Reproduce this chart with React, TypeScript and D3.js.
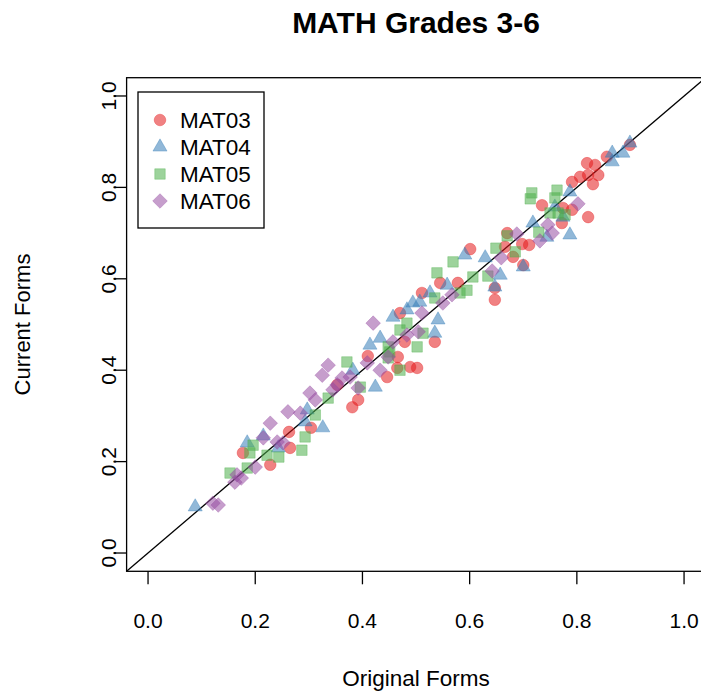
import React from "react";
import * as d3 from "d3";

const title = "MATH Grades 3-6";
const xLabel = "Original Forms";
const yLabel = "Current Forms";
const ticks = [0, 0.2, 0.4, 0.6, 0.8, 1.0];
const seriesNames = ["MAT03", "MAT04", "MAT05", "MAT06"];
const seriesColors = ["#E41A1C", "#377EB8", "#4DAF4A", "#984EA3"];

const mat03: [number, number][] = [
  [0.177, 0.219], [0.228, 0.193], [0.265, 0.23], [0.263, 0.265], [0.304, 0.274],
  [0.353, 0.368], [0.381, 0.319], [0.392, 0.335], [0.41, 0.431], [0.47, 0.525],
  [0.446, 0.385], [0.466, 0.429], [0.465, 0.405], [0.479, 0.462], [0.489, 0.407],
  [0.502, 0.405], [0.511, 0.569], [0.545, 0.591], [0.578, 0.591], [0.535, 0.462],
  [0.601, 0.665], [0.647, 0.58], [0.647, 0.554], [0.666, 0.67], [0.681, 0.648],
  [0.7, 0.63], [0.698, 0.676], [0.711, 0.674], [0.67, 0.7], [0.735, 0.761],
  [0.774, 0.755], [0.791, 0.751], [0.772, 0.722], [0.821, 0.735], [0.899, 0.893],
  [0.856, 0.867], [0.819, 0.853], [0.834, 0.849], [0.806, 0.823], [0.791, 0.812],
  [0.821, 0.827], [0.84, 0.827], [0.83, 0.807],
];
const mat04: [number, number][] = [
  [0.088, 0.101], [0.185, 0.241], [0.215, 0.256], [0.243, 0.23], [0.293, 0.287],
  [0.297, 0.313], [0.326, 0.274], [0.382, 0.4], [0.414, 0.455], [0.433, 0.47],
  [0.424, 0.363], [0.457, 0.516], [0.483, 0.532], [0.494, 0.547], [0.507, 0.549],
  [0.535, 0.481], [0.541, 0.51], [0.558, 0.586], [0.526, 0.569], [0.591, 0.652],
  [0.629, 0.646], [0.657, 0.608], [0.647, 0.582], [0.7, 0.626], [0.718, 0.722],
  [0.744, 0.691], [0.787, 0.696], [0.759, 0.757], [0.787, 0.79], [0.774, 0.735],
  [0.866, 0.875], [0.866, 0.856], [0.886, 0.875], [0.899, 0.897],
];
const mat05: [number, number][] = [
  [0.153, 0.175], [0.185, 0.186], [0.19, 0.219], [0.196, 0.236], [0.222, 0.214],
  [0.244, 0.21], [0.287, 0.225], [0.293, 0.254], [0.312, 0.302], [0.336, 0.339],
  [0.371, 0.418], [0.396, 0.363], [0.451, 0.44], [0.47, 0.488], [0.483, 0.503],
  [0.539, 0.613], [0.535, 0.558], [0.582, 0.569], [0.513, 0.481], [0.502, 0.451],
  [0.448, 0.451], [0.448, 0.427], [0.47, 0.4], [0.569, 0.637], [0.606, 0.604],
  [0.649, 0.667], [0.685, 0.659], [0.595, 0.575], [0.634, 0.606], [0.716, 0.788],
  [0.713, 0.775], [0.763, 0.794], [0.759, 0.777], [0.75, 0.744], [0.765, 0.744],
  [0.778, 0.74], [0.729, 0.702], [0.67, 0.694],
];
const mat06: [number, number][] = [
  [0.121, 0.109], [0.131, 0.105], [0.162, 0.155], [0.166, 0.171], [0.174, 0.164],
  [0.2, 0.188], [0.215, 0.252], [0.228, 0.284], [0.241, 0.243], [0.252, 0.241],
  [0.261, 0.309], [0.284, 0.306], [0.302, 0.35], [0.312, 0.335], [0.325, 0.389],
  [0.336, 0.411], [0.353, 0.368], [0.362, 0.383], [0.345, 0.357], [0.377, 0.385],
  [0.392, 0.361], [0.409, 0.416], [0.42, 0.503], [0.433, 0.4], [0.448, 0.429],
  [0.457, 0.462], [0.483, 0.477], [0.504, 0.484], [0.511, 0.525], [0.55, 0.547],
  [0.567, 0.565], [0.642, 0.617], [0.659, 0.646], [0.688, 0.698], [0.731, 0.683],
  [0.746, 0.718], [0.754, 0.7], [0.802, 0.764],
];
const seriesData = [mat03, mat04, mat05, mat06];

const FONT = "'Liberation Sans', Arial, Helvetica, sans-serif";
const W = 701;
const H = 693;
const box = { left: 126.6, right: 705.5, top: 77.7, bottom: 571.3 };

const x = d3.scaleLinear().domain([-0.04, 1.04]).range([box.left, box.right]);
const y = d3.scaleLinear().domain([-0.04, 1.04]).range([box.bottom, box.top]);

function markerPath(kind: number): string {
  if (kind === 0) return d3.symbol().type(d3.symbolCircle).size(Math.PI * 5.8 * 5.8)()!;
  if (kind === 1) return d3.symbol().type(d3.symbolTriangle).size(86)()!;
  if (kind === 2) return d3.symbol().type(d3.symbolSquare).size(110)()!;
  const r = 7.3;
  return `M0,${-r}L${r},0L0,${r}L${-r},0Z`;
}

export default function App() {
  const tf = d3.format(".1f");
  const line = d3.line<[number, number]>().x((d) => x(d[0])).y((d) => y(d[1]));
  return (
    <svg
      width={W}
      height={H}
      style={{ position: "absolute", left: 0, top: 0, background: "#fff" }}
      fontFamily={FONT}
    >
      <defs>
        <clipPath id="plotclip">
          <rect x={box.left} y={box.top} width={box.right - box.left} height={box.bottom - box.top} />
        </clipPath>
      </defs>
      <text x={(box.left + box.right) / 2} y={33} textAnchor="middle" fontSize={30} fontWeight="bold">
        {title}
      </text>
      <path
        d={line([[-0.04, -0.04], [1.04, 1.04]])!}
        stroke="#000"
        strokeWidth={1.3}
        clipPath="url(#plotclip)"
      />
      {seriesData.map((data, si) => {
        const p = markerPath(si);
        return (
          <g key={si}>
            {data.map((d, i) => (
              <path
                key={i}
                d={p}
                transform={`translate(${x(d[0])},${y(d[1])})`}
                fill={seriesColors[si]}
                fillOpacity={0.55}
                stroke={seriesColors[si]}
                strokeOpacity={0.35}
                strokeWidth={1}
              />
            ))}
          </g>
        );
      })}
      <rect
        x={box.left}
        y={box.top}
        width={box.right - box.left}
        height={box.bottom - box.top}
        fill="none"
        stroke="#000"
        strokeWidth={1.3}
      />
      {ticks.map((t) => (
        <g key={"x" + t}>
          <line x1={x(t)} x2={x(t)} y1={box.bottom} y2={box.bottom + 13} stroke="#000" strokeWidth={1.3} />
          <text x={x(t)} y={628} textAnchor="middle" fontSize={21}>
            {tf(t)}
          </text>
        </g>
      ))}
      {ticks.map((t) => (
        <g key={"y" + t}>
          <line x1={box.left} x2={box.left - 13} y1={y(t)} y2={y(t)} stroke="#000" strokeWidth={1.3} />
          <text
            transform={`translate(${116},${y(t)}) rotate(-90)`}
            textAnchor="middle"
            fontSize={21}
          >
            {tf(t)}
          </text>
        </g>
      ))}
      <text x={(box.left + box.right) / 2} y={686} textAnchor="middle" fontSize={22.5}>
        {xLabel}
      </text>
      <text transform={`translate(${30},${(box.top + box.bottom) / 2}) rotate(-90)`} textAnchor="middle" fontSize={22}>
        {yLabel}
      </text>
      <g>
        <rect x={138} y={92} width={126} height={136} fill="#fff" stroke="#000" strokeWidth={1.3} />
        {seriesNames.map((n, i) => (
          <g key={n} transform={`translate(0,${120 + i * 27})`}>
            <path
              d={markerPath(i)}
              transform="translate(160,0)"
              fill={seriesColors[i]}
              fillOpacity={0.55}
              stroke={seriesColors[i]}
              strokeOpacity={0.35}
            />
            <text x={180} y={0} dy="0.36em" fontSize={22.5}>
              {n}
            </text>
          </g>
        ))}
      </g>
    </svg>
  );
}
